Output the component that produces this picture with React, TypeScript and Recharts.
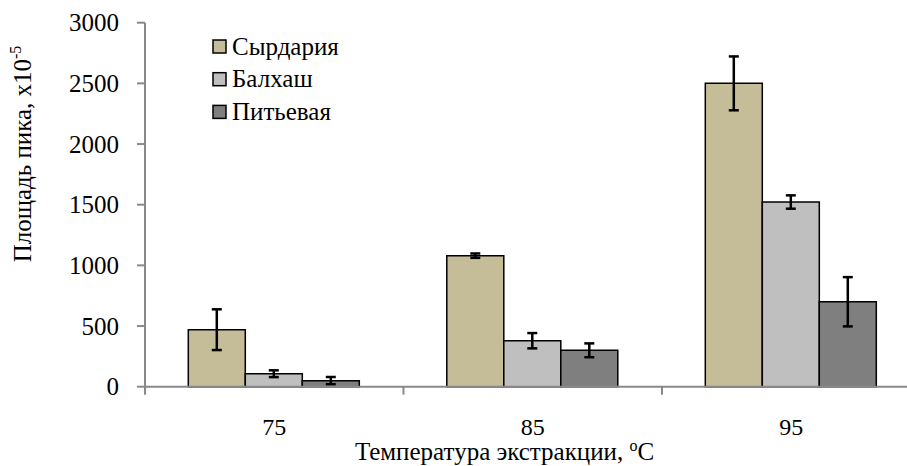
import { BarChart, Bar, XAxis, YAxis, ErrorBar, Legend } from 'recharts'

const categories = ['75', '85', '95']
const syrdaria = [470, 1080, 2500]
const syrdariaErr = [168, 18, 222]
const balkhash = [107, 379, 1522]
const balkhashErr = [28, 63, 55]
const pitevaya = [50, 300, 700]
const pitevayaErr = [30, 57, 203]
const yTicks = [0, 500, 1000, 1500, 2000, 2500, 3000]

const seriesNames = ['Сырдария', 'Балхаш', 'Питьевая']
const seriesColors = ['#C4BD97', '#BFBFBF', '#7F7F7F']

const data = categories.map((c, i) => ({
  temp: c,
  s1: syrdaria[i],
  e1: syrdariaErr[i],
  s2: balkhash[i],
  e2: balkhashErr[i],
  s3: pitevaya[i],
  e3: pitevayaErr[i],
}))

const FONT = 'Liberation Serif'
const AXIS = '#898989'

// category ticks sit on the band edges, labels stay at the band centre
const CategoryTick = (props: any) => {
  const { x, y, payload } = props
  const half = payload.offset ?? 129.25
  return (
    <g>
      <line x1={x - half} y1={y} x2={x - half} y2={y + 8} stroke={AXIS} strokeWidth={2} />
      <text x={x} y={y + 48} textAnchor="middle" fill="#000" fontFamily={FONT} fontSize={24}>
        {payload.value}
      </text>
    </g>
  )
}

const ValueTick = (props: any) => {
  const { x, y, payload } = props
  return (
    <text x={x} y={y + 8.5} textAnchor="end" fill="#000" fontFamily={FONT} fontSize={25}>
      {payload.value}
    </text>
  )
}

const renderLegend = () => (
  <svg width={200} height={100} style={{ display: 'block' }}>
    {seriesNames.map((name, i) => (
      <g key={name} transform={`translate(0, ${i * 32.7})`}>
        <rect x={1} y={10} width={13} height={13} fill={seriesColors[i]} stroke="#000" strokeWidth={1.5} />
        <text x={20} y={24.5} fill="#000" fontFamily={FONT} fontSize={25}>{name}</text>
      </g>
    ))}
  </svg>
)

const YLabel = (props: any) => {
  const vb = props.viewBox
  const cx = vb.x + 31
  const cy = 154
  return (
    <text x={cx} y={cy} textAnchor="middle" fill="#000" fontFamily={FONT} fontSize={25}
      transform={`rotate(-90, ${cx}, ${cy})`}>
      Площадь пика, х10
      <tspan dy={-10} fontSize={16}>-5</tspan>
    </text>
  )
}

const XLabel = (props: any) => {
  const vb = props.viewBox
  return (
    <text x={504.5} y={vb.y + 73} textAnchor="middle" fill="#000" fontFamily={FONT} fontSize={25}>
      Температура экстракции, <tspan dy={-9} fontSize={16}>o</tspan><tspan dy={9}>C</tspan>
    </text>
  )
}

export default function App() {
  return (
    <div style={{ position: 'fixed', left: 0, top: 0, width: 907, height: 466, overflow: 'hidden', background: '#fff' }}>
      <BarChart
        width={940}
        height={466}
        data={data}
        margin={{ top: 22.7, right: 19.5, left: 0, bottom: 0 }}
        barCategoryGap="16.75%"
        barGap={0}
      >
        <XAxis
          dataKey="temp"
          height={79.3}
          axisLine={{ stroke: AXIS, strokeWidth: 2 }}
          tickLine={false}
          tickSize={0}
          tickMargin={0}
          tick={<CategoryTick />}
          interval={0}
          label={<XLabel />}
        />
        <YAxis
          width={145}
          domain={[0, 3000]}
          ticks={yTicks}
          interval={0}
          axisLine={{ stroke: AXIS, strokeWidth: 2 }}
          tickLine={{ stroke: AXIS, strokeWidth: 2 }}
          tickSize={8}
          tickMargin={18}
          tick={<ValueTick />}
          label={<YLabel />}
        />
        <Legend
          layout="vertical"
          align="center"
          verticalAlign="middle"
          content={renderLegend}
          wrapperStyle={{ left: 212, top: 29.6, width: 200, height: 100 }}
        />
        <Bar dataKey="s1" name={seriesNames[0]} fill={seriesColors[0]} stroke="#000" strokeWidth={1.5} isAnimationActive={false}>
          <ErrorBar dataKey="e1" width={5} strokeWidth={2.5} stroke="#000" direction="y" isAnimationActive={false} />
        </Bar>
        <Bar dataKey="s2" name={seriesNames[1]} fill={seriesColors[1]} stroke="#000" strokeWidth={1.5} isAnimationActive={false}>
          <ErrorBar dataKey="e2" width={5} strokeWidth={2.5} stroke="#000" direction="y" isAnimationActive={false} />
        </Bar>
        <Bar dataKey="s3" name={seriesNames[2]} fill={seriesColors[2]} stroke="#000" strokeWidth={1.5} isAnimationActive={false}>
          <ErrorBar dataKey="e3" width={5} strokeWidth={2.5} stroke="#000" direction="y" isAnimationActive={false} />
        </Bar>
      </BarChart>
    </div>
  )
}
